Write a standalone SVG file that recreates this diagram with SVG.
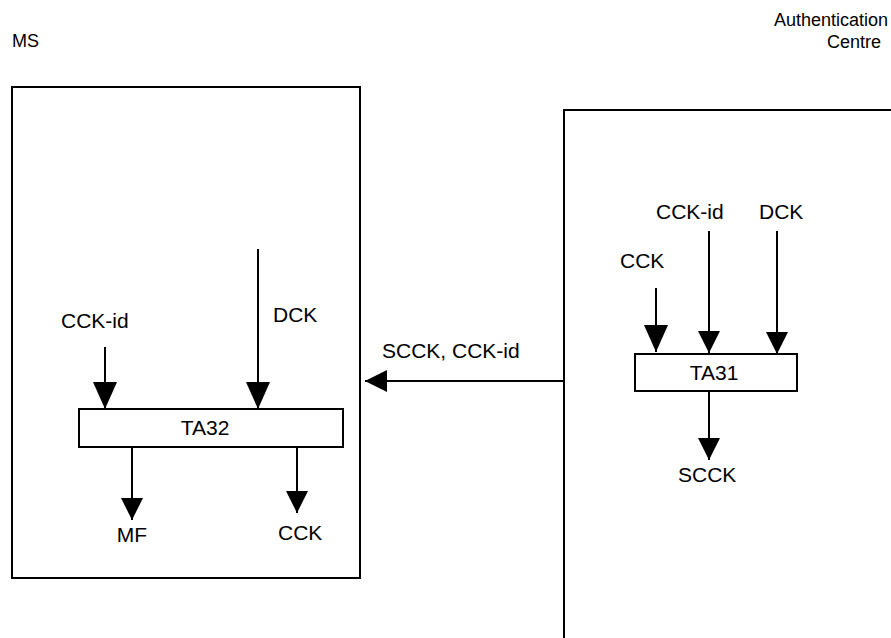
<svg xmlns="http://www.w3.org/2000/svg" width="891" height="638" viewBox="0 0 891 638">
<style>
text{font-family:"Liberation Sans",Arial,sans-serif;font-size:21px;fill:#000}
.hd{font-size:18px}
.box{fill:#fff;stroke:#000;stroke-width:2}
.ln{stroke:#000;stroke-width:2;fill:none}
.c{text-anchor:middle}
</style>
<defs>
<marker id="ah" markerUnits="userSpaceOnUse" markerWidth="22" markerHeight="26" viewBox="0 0 22 26" refX="22" refY="11" orient="auto">
<path d="M0,0 L22,11 L0,22 Z" fill="#000"/>
</marker>
<marker id="ahL" markerUnits="userSpaceOnUse" markerWidth="27" markerHeight="24" viewBox="0 0 27 24" refX="27" refY="12" orient="auto">
<path d="M0,0 L27,12 L0,24 Z" fill="#000"/>
</marker>
</defs>
<rect width="891" height="638" fill="#fff"/>
<g id="ms">
<rect class="box" x="12" y="87" width="348" height="491"/>
<text class="hd" x="12" y="47">MS</text>
</g>
<g id="ac">
<path class="ln" d="M891,110 H564 V638"/>
<text class="hd" x="888" y="26" text-anchor="end">Authentication</text>
<text class="hd" x="881" y="48" text-anchor="end">Centre</text>
</g>
<g id="ta32">
<rect class="box" x="79" y="409" width="264" height="38"/>
<text class="c" x="205" y="435">TA32</text>
</g>
<g id="ta31">
<rect class="box" x="635" y="354" width="162" height="37"/>
<text class="c" x="714" y="380">TA31</text>
</g>
<g id="labels">
<text x="61" y="328">CCK-id</text>
<text x="273" y="322">DCK</text>
<text class="c" x="132" y="542">MF</text>
<text x="278" y="540">CCK</text>
<text x="382" y="358">SCCK, CCK-id</text>
<text x="656" y="219">CCK-id</text>
<text x="759" y="219">DCK</text>
<text x="620" y="268">CCK</text>
<text x="678" y="482">SCCK</text>
</g>
<g id="connectors">
<line class="ln" x1="105" y1="347" x2="105" y2="409" marker-end="url(#ahL)"/>
<line class="ln" x1="258" y1="249" x2="258" y2="409" marker-end="url(#ahL)"/>
<line class="ln" x1="132" y1="447" x2="132" y2="520" marker-end="url(#ah)"/>
<line class="ln" x1="297" y1="447" x2="297" y2="513" marker-end="url(#ah)"/>
<line class="ln" x1="564" y1="381" x2="365" y2="381" marker-end="url(#ah)"/>
<line class="ln" x1="656" y1="288" x2="656" y2="352" marker-end="url(#ahL)"/>
<line class="ln" x1="709" y1="231" x2="709" y2="353" marker-end="url(#ah)"/>
<line class="ln" x1="777" y1="231" x2="777" y2="354" marker-end="url(#ah)"/>
<line class="ln" x1="709" y1="391" x2="709" y2="460" marker-end="url(#ah)"/>
</g>
</svg>
